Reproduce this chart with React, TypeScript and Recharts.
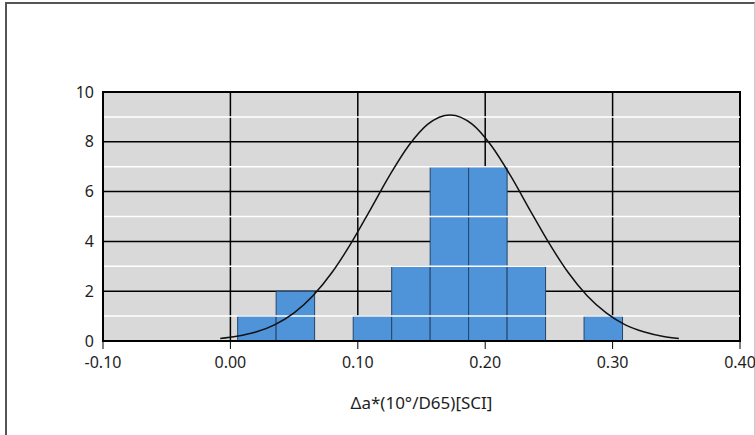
import { ComposedChart, Line, XAxis, YAxis, CartesianGrid, ReferenceArea, ReferenceLine, Label } from 'recharts';

// histogram bins (left / right edges) and counts
const binStarts = [0.0057, 0.0359, 0.0661, 0.0964, 0.1266, 0.1568, 0.187, 0.2172, 0.2474, 0.2776];
const binEnds = [0.0359, 0.0661, 0.0964, 0.1266, 0.1568, 0.187, 0.2172, 0.2474, 0.2776, 0.3078];
const counts = [1, 2, 0, 1, 3, 7, 7, 3, 0, 1];

// fitted normal curve
const curveX = [-0.008, 0.005, 0.02, 0.035, 0.05, 0.065, 0.08, 0.095, 0.11, 0.125, 0.14, 0.155, 0.1724, 0.19, 0.205, 0.22, 0.235, 0.25, 0.265, 0.28, 0.295, 0.31, 0.325, 0.34, 0.352];
const curveY = [0.1, 0.19, 0.36, 0.66, 1.13, 1.83, 2.77, 3.95, 5.29, 6.65, 7.85, 8.71, 9.08, 8.7, 7.83, 6.63, 5.27, 3.94, 2.76, 1.82, 1.13, 0.65, 0.36, 0.18, 0.1];

const xTicks = [-0.1, 0, 0.1, 0.2, 0.3, 0.4];
const yTicks = [0, 2, 4, 6, 8, 10];
const yMinor = [1, 3, 5, 7, 9];

const FONT = '"Noto Sans", "Open Sans", sans-serif';

export default function App() {
  const curve = curveX.map((x, i) => ({ x, y: curveY[i] }));
  const tick = { fill: '#1e1e1e', fontSize: 16, fontFamily: FONT };

  return (
    <div style={{ position: 'absolute', left: 0, top: 0, width: 755, height: 435, background: '#fff' }}>
      <div style={{ position: 'absolute', left: 5, top: 2, width: 747, height: 440, borderLeft: '2px solid #555', borderTop: '2px solid #555', borderRight: '1px solid #ccc' }} />
      <ComposedChart width={755} height={435} data={curve} margin={{ top: 92, right: 15, bottom: 40, left: 0 }} style={{ position: 'absolute', left: 0, top: 0 }}>
        <CartesianGrid fill="#d9d9d9" stroke="#000" strokeWidth={1.5} strokeOpacity={1} />
        {yMinor.map((v) => (
          <ReferenceLine key={v} y={v} stroke="#fff" strokeWidth={1.5} />
        ))}
        <XAxis
          dataKey="x"
          type="number"
          domain={[-0.1, 0.4]}
          ticks={xTicks}
          allowDataOverflow
          tickFormatter={(v) => Number(v).toFixed(2)}
          tick={tick}
          tickSize={8}
          tickMargin={8}
          tickLine={{ stroke: '#000', strokeWidth: 1 }}
          axisLine={{ stroke: '#000', strokeWidth: 2 }}
          height={54}
        >
          <Label value="Δa*(10°/D65)[SCI]" position="bottom" offset={2} style={{ fill: '#1e1e1e', fontSize: 17, fontFamily: FONT }} />
        </XAxis>
        <YAxis
          type="number"
          domain={[0, 10]}
          ticks={yTicks}
          tick={tick}
          tickLine={false}
          tickMargin={3}
          axisLine={{ stroke: '#000', strokeWidth: 2 }}
          width={103}
        />
        {counts.map((c, i) =>
          c > 0 ? (
            <ReferenceArea
              key={i}
              x1={binStarts[i]}
              x2={binEnds[i]}
              y1={0}
              y2={c}
              fill="#4f93d8"
              fillOpacity={1}
              stroke="#23456b"
              strokeWidth={1}
              strokeOpacity={1}
            />
          ) : null
        )}
        <Line type="monotone" dataKey="y" stroke="#111" strokeWidth={1.5} dot={false} activeDot={false} isAnimationActive={false} />
        <ReferenceArea x1={-0.1} x2={0.4} y1={0} y2={10} fill="none" stroke="#000" strokeWidth={2} strokeOpacity={1} />
      </ComposedChart>
    </div>
  );
}
